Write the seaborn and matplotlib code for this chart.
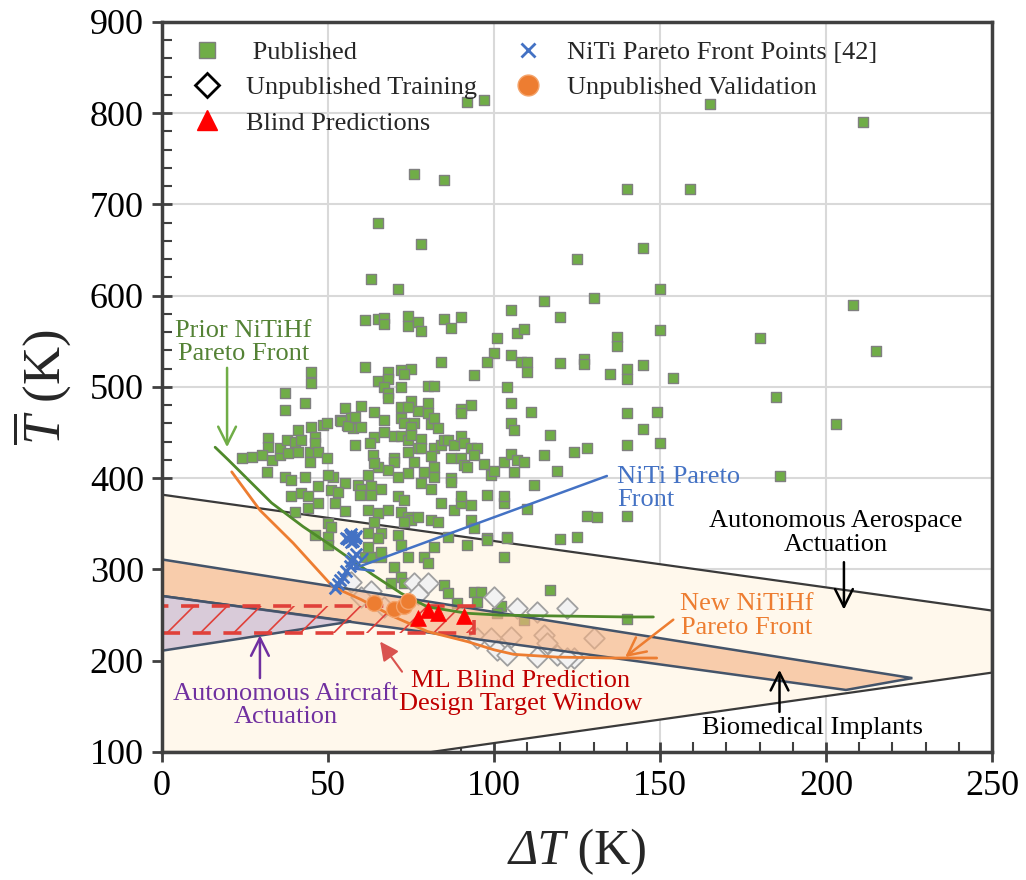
import matplotlib
matplotlib.use("Agg")
import matplotlib.pyplot as plt
import seaborn as sns
import pandas as pd
from matplotlib.lines import Line2D
from matplotlib.patches import Polygon, Rectangle
from matplotlib.ticker import MultipleLocator

# ---------------- data ----------------
pub_x = [92, 97, 165, 211, 76, 85, 65, 78, 63, 71, 125, 140, 159, 145, 130, 115, 150, 208, 180, 215, 185, 203, 186,
         105, 120, 61, 65, 67, 67, 74, 74, 77, 78, 85, 87, 90,
         101, 107, 109, 100, 98, 105, 108, 110, 110, 120, 84, 94,
         61, 68, 65, 68, 67, 68, 68, 72, 75, 73, 72, 80, 82,
         45, 45, 37, 37, 43,
         104, 105, 105, 106, 111, 117, 124, 128, 115,
         137, 137, 127, 127, 135, 140, 140, 145, 154, 150,
         140, 149, 145, 140, 150, 119, 112, 103, 110, 128, 131, 140, 104, 120, 125, 103, 117, 140,
         93, 90, 90, 103, 105, 107, 109, 106, 99, 97, 100,
         64, 67, 64, 67, 70, 72, 74, 72, 73, 76, 75, 75, 77, 75, 72, 74, 80, 80, 81, 82, 83, 78, 77, 78, 82,
         84, 85, 86, 88, 90, 91, 93, 95, 94, 81, 87, 90, 91, 92, 70, 70, 74, 76, 79, 82, 82, 74, 68, 65, 87,
         24, 27, 32, 32, 30, 33, 35.5, 35.5, 37.6, 38, 40, 41, 41, 42, 44.6, 44.6, 45, 46, 46, 47, 48.5, 49.6,
         49.6, 53.6, 55, 55.6, 57, 57.6, 58, 60, 62.6, 63.6, 64, 51.6, 31.6, 37, 60, 54, 56, 58,
         39, 43, 50, 62, 71, 87, 55, 47, 63, 66, 78, 81,
         39, 42, 44, 47, 44, 40, 51, 53, 52, 55, 50, 51, 46, 50, 50, 59, 60, 59.6, 63, 62, 65, 64, 66, 65, 62,
         68, 71, 73, 72, 74, 75, 73, 77, 71, 72, 74, 70, 79, 80, 82, 81, 83, 84, 86, 88, 90, 90, 93, 93, 94,
         92, 98, 98, 103, 104, 72, 69, 73, 85, 86, 94, 96, 95, 89, 102, 101, 109, 61, 63, 66, 62, 66, 98]
pub_y = [812, 815, 810, 790, 733, 727, 680, 657, 618, 607, 640, 717, 717, 652, 598, 594, 607, 590, 554, 539, 489, 459, 402,
         584, 577, 573, 574, 576, 569, 578, 567, 571, 561, 574, 565, 577,
         554, 559, 564, 537, 527, 535, 527, 527, 516, 526, 527, 513,
         522, 516, 507, 509, 500, 493, 488, 519, 520, 514, 500, 501, 501,
         516, 504, 493, 475, 483,
         500, 482, 461, 453, 473, 447, 429, 433, 425,
         555, 545, 531, 525, 514, 520, 509, 524, 510, 562,
         472, 473, 454, 436, 439, 408, 393, 373, 366, 359, 358, 359, 336, 333, 336, 314, 278, 246,
         480, 476, 471, 418, 427, 420, 418, 407, 404, 416, 408,
         473, 464, 445, 451, 446, 446, 442, 466, 461, 461, 456, 447, 474, 485, 478, 478, 483, 471, 459, 466, 455, 443, 433, 433, 433,
         436, 442, 442, 436, 446, 439, 433, 433, 425, 424, 422, 422, 415, 412, 422, 418, 429, 418, 407, 412, 401, 406, 409, 412, 400,
         422, 423, 444, 434, 425, 420, 425, 433, 442, 428, 440, 453, 429, 442, 429, 418, 456, 445, 439, 429, 458, 460,
         422, 464, 477, 458, 466, 455, 436, 456, 439, 425, 417, 401, 407, 401, 479, 463, 457, 467,
         398, 401, 404, 404, 401, 396, 395, 392, 392, 388, 395, 388,
         380, 384, 380, 373, 367, 363, 387, 385, 373, 364, 351, 347, 338, 336, 327, 393, 388, 382, 382, 365, 362, 352, 340, 335, 340,
         365, 380, 376, 363, 358, 354, 352, 358, 338, 327, 314, 303, 314, 307, 325, 354, 352, 373, 336, 365, 373, 380, 371, 354, 346,
         327, 335, 382, 380, 335, 292, 285, 285, 283, 274, 275, 275, 264, 263, 260, 252, 245, 314, 314, 314, 325, 319, 332]

train_x = [57, 63, 60, 76, 80, 77, 100, 107, 113, 122, 95, 99, 105, 115, 116, 130, 101, 104, 113, 119, 124, 122, 67]
train_y = [286, 276, 270, 285, 285, 273, 270, 258, 253, 258, 225, 225, 226, 228, 219, 225, 212, 206, 204, 206, 203, 203, 259]

val_x = [64, 70, 73, 74]
val_y = [263, 257, 260, 265]

blind_x = [77, 80, 83, 91]
blind_y = [247, 256, 252, 249]

niti_x = [52, 53, 53.5, 54.5, 55.5, 56.5, 57, 57.5, 58.5, 57, 56, 57, 58, 56.5, 57.5, 58.5, 55.5, 57]
niti_y = [280, 284, 288, 292, 298, 304, 309, 313, 317, 330, 333, 336, 334, 338, 331, 337, 335, 339]

prior_x = [16, 20, 33, 42.5, 51.5, 63.6, 72, 80, 92, 102, 120, 140, 148]
prior_y = [434, 420, 373, 347, 325, 294, 274, 259, 252, 250, 249, 248, 248]

new_x = [21, 29.5, 39.5, 51.5, 60, 70, 80, 92, 100, 106, 119, 136, 149]
new_y = [407, 365, 329, 281, 267, 248, 232, 221, 212, 207, 204, 203, 203]

aero_x = [0, 250, 250, 81, 0]
aero_y = [382, 255, 187, 100, 100]
bio_x = [0, 226, 206, 0]
bio_y = [311, 181, 168, 271]
aircraft_x = [0, 57, 0]
aircraft_y = [271, 243, 211]
window_x = [0, 94]
window_y = [230, 260]

x_ticks = [0, 50, 100, 150, 200, 250]
y_ticks = [100, 200, 300, 400, 500, 600, 700, 800, 900]

# ---------------- style ----------------
sns.set_theme(style="white")
plt.rcParams["font.family"] = ["Liberation Serif", "DejaVu Serif"]
plt.rcParams["mathtext.fontset"] = "custom"
plt.rcParams["mathtext.rm"] = "Liberation Serif"
plt.rcParams["mathtext.it"] = "Liberation Serif:italic"
plt.rcParams["hatch.linewidth"] = 1.2

fig = plt.figure(figsize=(10.26, 8.8), dpi=100)
ax = fig.add_axes([162 / 1026, 1 - 752 / 880, 830 / 1026, 730 / 880])
ax.set_xlim(0, 250)
ax.set_ylim(100, 900)

# regions
ax.add_patch(Polygon(list(zip(aero_x, aero_y)), closed=True, facecolor="#fff8ec",
                     edgecolor="#3a3a3a", lw=1.6, zorder=1))

# scatter of data underneath the biomedical band
sns.scatterplot(x=pub_x, y=pub_y, marker="s", s=50, color="#70ad47", edgecolor="#808080",
                linewidth=1.0, zorder=2, ax=ax, legend=False)
sns.scatterplot(x=train_x, y=train_y, marker="D", s=110, color="#f2f2f2", edgecolor="#a0a0a0",
                linewidth=1.3, zorder=2, ax=ax, legend=False)

ax.add_patch(Polygon(list(zip(bio_x, bio_y)), closed=True, facecolor="#f4b183", alpha=0.62,
                     edgecolor="none", zorder=2.5))
ax.add_patch(Polygon(list(zip(bio_x, bio_y)), closed=True, facecolor="none",
                     edgecolor="#44546a", lw=1.8, zorder=2.6))
ax.add_patch(Polygon(list(zip(aircraft_x, aircraft_y)), closed=True, facecolor="#b4a0c8", alpha=0.5,
                     edgecolor="none", zorder=2.6))
ax.add_patch(Polygon(list(zip(aircraft_x, aircraft_y)), closed=True, facecolor="none",
                     edgecolor="#44546a", lw=1.8, zorder=2.7))
ax.add_patch(Rectangle((window_x[0], window_y[0]), window_x[1] - window_x[0], window_y[1] - window_y[0],
                       fill=False, hatch="/", edgecolor="#e0403a", lw=2.6,
                       linestyle=(0, (5, 3.5)), zorder=2.8))

# fronts
sns.lineplot(x=prior_x, y=prior_y, sort=False, color="#4f8a2b", lw=2.0, zorder=3, ax=ax)
sns.lineplot(x=new_x, y=new_y, sort=False, color="#ed7d31", lw=2.0, zorder=3, ax=ax)

sns.scatterplot(x=val_x, y=val_y, marker="o", s=130, color="#ed7d31", edgecolor="#f4a36a",
                linewidth=1, zorder=4, ax=ax, legend=False)
sns.scatterplot(x=blind_x, y=blind_y, marker="^", s=130, color="#ff0000", edgecolor="#ff0000",
                linewidth=0.5, zorder=4, ax=ax, legend=False)
sns.scatterplot(x=niti_x, y=niti_y, marker="x", s=70, color="#4472c4", linewidth=2,
                zorder=4, ax=ax, legend=False)

# annotations
def arrow(tip, tail, color, style="->", lw=1.8, ms=32):
    ax.annotate("", xy=tip, xytext=tail,
                arrowprops=dict(arrowstyle=style, color=color, lw=lw, mutation_scale=ms,
                                shrinkA=0, shrinkB=0), zorder=5)

fs = 19
lsp = 1.08
ax.text(24.5, 549, "Prior NiTiHf\nPareto Front", color="#548235", fontsize=fs, ha="center",
        va="center", linespacing=lsp, zorder=5)
arrow((19.6, 434), (19.6, 521), "#70ad47")

ax.text(137, 389, "NiTi Pareto\nFront", color="#4472c4", fontsize=fs, ha="left", va="center",
        linespacing=lsp, zorder=5)
arrow((57, 300), (134, 402.5), "#4472c4")

ax.text(203, 340, "Autonomous Aerospace\nActuation", color="black", fontsize=fs, ha="center",
        va="center", linespacing=lsp, zorder=5)
arrow((205.4, 256), (205.4, 308), "black")

ax.text(176, 249, "New NiTiHf\nPareto Front", color="#ed7d31", fontsize=fs, ha="center",
        va="center", linespacing=lsp, zorder=5)
arrow((139.5, 204), (154, 245), "#ed7d31")

ax.text(196, 126, "Biomedical Implants", color="black", fontsize=fs, ha="center", va="center", zorder=5)
arrow((186, 190), (186, 144), "black")

ax.text(108, 165, "ML Blind Prediction\nDesign Target Window", color="#c00000", fontsize=fs,
        ha="center", va="center", linespacing=lsp, zorder=5)
arrow((65.7, 221), (72.3, 188), "#d9534f", style="-|>", lw=1.5, ms=28)

ax.text(37.3, 151, "Autonomous Aircraft\nActuation", color="#7030a0", fontsize=fs, ha="center",
        va="center", linespacing=lsp, zorder=5)
arrow((29.5, 228), (29.5, 181), "#7030a0")

# axes styling
ax.set_xticks(x_ticks)
ax.set_yticks(y_ticks)
ax.xaxis.set_minor_locator(MultipleLocator(10))
ax.yaxis.set_minor_locator(MultipleLocator(20))
ax.tick_params(which="major", direction="inout", length=14, width=2, color="#404040",
               labelcolor="black", labelsize=26, pad=6, bottom=True, left=True)
ax.tick_params(which="minor", direction="in", length=7, width=1.5, color="#404040",
               bottom=True, left=True)
ax.grid(True, which="major", color="#d9d9d9", lw=1.5)
for gl in ax.get_xgridlines() + ax.get_ygridlines():
    gl.set_zorder(1.5)
for sp in ax.spines.values():
    sp.set_color("#404040")
    sp.set_linewidth(2.5)
    sp.set_zorder(6)

# x label: italic "ΔT" followed by upright "(K)"
ax.text(0.486, -0.105, "\u0394T", fontsize=36, fontstyle="italic", ha="right", va="top",
        transform=ax.transAxes)
ax.text(0.486, -0.105, " (K)", fontsize=36, ha="left", va="top", transform=ax.transAxes)
ax.set_ylabel(r"$\overline{T}$ (K)", fontsize=38, labelpad=12)

# legend
handles = [
    Line2D([], [], ls="", marker="s", ms=11, mfc="#70ad47", mec="#7f7f7f"),
    Line2D([], [], ls="", marker="D", ms=12, mfc="white", mec="black", mew=2),
    Line2D([], [], ls="", marker="^", ms=15, mfc="#ff0000", mec="#ff0000"),
    Line2D([], [], ls="", marker="x", ms=10, mec="#4472c4", mew=2),
    Line2D([], [], ls="", marker="o", ms=15, mfc="#ed7d31", mec="#f4a36a"),
]
labels = [" Published", "Unpublished Training", "Blind Predictions",
          "NiTi Pareto Front Points [42]", "Unpublished Validation"]
leg = ax.legend(handles, labels, loc="upper left", bbox_to_anchor=(0.0, 1.0), ncol=2,
                frameon=False, fontsize=19, columnspacing=0.9, handletextpad=0.5,
                labelspacing=0.45, borderaxespad=0.3)
leg.set_zorder(7)

fig.savefig("out.png", dpi=100)
